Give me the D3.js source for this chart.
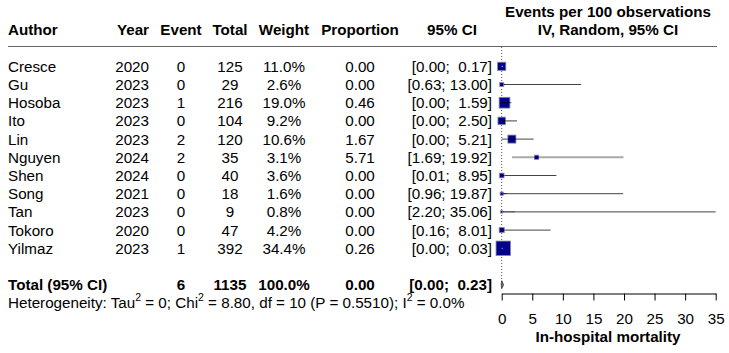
<!DOCTYPE html>
<html>
<head>
<meta charset="utf-8">
<script src="https://cdn.jsdelivr.net/npm/d3@7"></script>
<style>
  body { margin: 0; background: #fff; }
  text { font-family: "Liberation Sans", Arial, sans-serif; font-size: 15.2px; fill: #000; }
  .bold { font-weight: bold; }
</style>
</head>
<body>
<script>
let width = 729;
let height = 353;

// study data
let authors = ["Cresce", "Gu", "Hosoba", "Ito", "Lin", "Nguyen", "Shen", "Song", "Tan", "Tokoro", "Yilmaz"];
let years = [2020, 2023, 2023, 2023, 2023, 2024, 2024, 2021, 2023, 2020, 2023];
let events = [0, 0, 1, 0, 2, 2, 0, 0, 0, 0, 1];
let totals = [125, 29, 216, 104, 120, 35, 40, 18, 9, 47, 392];
let weights = [11.0, 2.6, 19.0, 9.2, 10.6, 3.1, 3.6, 1.6, 0.8, 4.2, 34.4];
let proportions = [0.00, 0.00, 0.46, 0.00, 1.67, 5.71, 0.00, 0.00, 0.00, 0.00, 0.26];
let ciLow = [0.00, 0.63, 0.00, 0.00, 0.00, 1.69, 0.01, 0.96, 2.20, 0.16, 0.00];
let ciHigh = [0.17, 13.00, 1.59, 2.50, 5.21, 19.92, 8.95, 19.87, 35.06, 8.01, 0.03];

// pooled result
let pooledEvents = 6;
let pooledTotal = 1135;
let pooledWeight = 100.0;
let pooledEst = 0.00;
let pooledLow = 0.00;
let pooledHigh = 0.23;

let xTicks = [0, 5, 10, 15, 20, 25, 30, 35];

let svg = d3.select("body")
            .append("svg")
            .attr("width", width)
            .attr("height", height);

// row positions (11 studies, a blank row, total, heterogeneity)
let y = d3.scaleLinear().domain([0, 1]).range([66.3, 84.5]);
let x = d3.scaleLinear().domain([0, 35]).range([501.7, 715.7]);
let boxSize = d3.scaleSqrt().domain([0, 34.4]).range([0, 14.5]);

let fmt2 = d3.format(".2f");
let fmt1 = d3.format(".1f");
// non-breaking spaces keep the padding before the upper limit
function ciText(lo, hi) {
  return ("[" + fmt2(lo) + "; " + fmt2(hi).padStart(5, " ") + "]").replace(/ /g, "\u00A0");
}

// column definitions: x position and anchor
let cols = [
  { head: "Author", x: 8, anchor: "start", val: (d, i) => authors[i] },
  { head: "Year", x: 149, anchor: "end", val: (d, i) => years[i] },
  { head: "Event", x: 181, anchor: "middle", val: (d, i) => events[i] },
  { head: "Total", x: 230, anchor: "middle", val: (d, i) => totals[i] },
  { head: "Weight", x: 284, anchor: "middle", val: (d, i) => fmt1(weights[i]) + "%" },
  { head: "Proportion", x: 360, anchor: "middle", val: (d, i) => fmt2(proportions[i]) },
  { head: "95% CI", x: 452, anchor: "middle", val: null }
];

// headers
let header = svg.append("g");
cols.forEach(function(c) {
  header.append("text").classed("bold", true)
    .attr("x", c.x).attr("y", 35)
    .attr("text-anchor", c.anchor)
    .text(c.head);
});
header.append("text").classed("bold", true)
  .attr("x", 608).attr("y", 17).attr("text-anchor", "middle")
  .text("Events per 100 observations");
header.append("text").classed("bold", true)
  .attr("x", 608).attr("y", 35).attr("text-anchor", "middle")
  .text("IV, Random, 95% CI");
header.append("line")
  .attr("x1", 8).attr("x2", 717).attr("y1", 46.5).attr("y2", 46.5)
  .attr("stroke", "#666").attr("stroke-width", 1);

// reference line at 0
svg.append("line")
  .attr("x1", x(0)).attr("x2", x(0))
  .attr("y1", 47).attr("y2", y(12))
  .attr("stroke", "#555").attr("stroke-width", 1)
  .attr("stroke-dasharray", "1,2");

// study rows
let rows = svg.append("g").selectAll("g.row")
  .data(authors)
  .enter()
  .append("g")
  .classed("row", true)
  .attr("transform", function(d, i) { return "translate(0," + y(i) + ")"; });

cols.slice(0, 6).forEach(function(c) {
  rows.append("text")
    .attr("x", c.x).attr("y", 5.5)
    .attr("text-anchor", c.anchor)
    .text(c.val);
});
rows.append("text")
  .attr("x", 492).attr("y", 5.5)
  .attr("text-anchor", "end")
  .text(function(d, i) { return ciText(ciLow[i], ciHigh[i]); });

// CI lines and boxes
rows.each(function(d, i) {
  let g = d3.select(this);
  let s = boxSize(weights[i]);
  let cx = x(proportions[i]);
  let lo = x(ciLow[i]), hi = x(Math.min(ciHigh[i], 35));
  let inside = lo >= cx - s / 2 && hi <= cx + s / 2;
  if (!inside) {
    g.append("line")
      .attr("x1", lo).attr("x2", hi).attr("y1", 0).attr("y2", 0)
      .attr("stroke", i === 5 ? "#aaa" : "#444")
      .attr("stroke-width", i === 5 ? 2 : 1);
  }
  g.append("rect")
    .attr("x", cx - s / 2).attr("y", -s / 2)
    .attr("width", s).attr("height", s)
    .attr("fill", "#00008b")
    .attr("stroke", "#8888aa").attr("stroke-width", 0.8);
  if (inside) {
    g.append("line")
      .attr("x1", lo).attr("x2", Math.max(hi, lo + 0.8)).attr("y1", 0).attr("y2", 0)
      .attr("stroke", "#fff").attr("stroke-width", 1);
  } else {
    g.append("line")
      .attr("x1", Math.max(lo, cx - s / 2)).attr("x2", Math.min(hi, cx + s / 2))
      .attr("y1", 0).attr("y2", 0)
      .attr("stroke", "#000").attr("stroke-width", 1);
  }
});

// total row
let tot = svg.append("g").attr("transform", "translate(0," + y(12) + ")");
let totVals = ["Total (95% CI)", "", pooledEvents, pooledTotal, fmt1(pooledWeight) + "%", fmt2(pooledEst)];
cols.slice(0, 6).forEach(function(c, j) {
  tot.append("text").classed("bold", true)
    .attr("x", c.x).attr("y", 5.5)
    .attr("text-anchor", c.anchor)
    .text(totVals[j]);
});
tot.append("text").classed("bold", true)
  .attr("x", 492).attr("y", 5.5).attr("text-anchor", "end")
  .text(ciText(pooledLow, pooledHigh));
tot.append("path")
  .attr("d", d3.line()([
    [x(pooledLow) - 0.5, 0], [x(pooledEst), -4], [x(pooledHigh) + 0.5, 0], [x(pooledEst), 4]
  ]) + "Z")
  .attr("fill", "#777").attr("stroke", "#333").attr("stroke-width", 0.8);

// heterogeneity line
let het = svg.append("text")
  .attr("x", 8).attr("y", y(13) + 5.5);
het.append("tspan").text("Heterogeneity: Tau");
het.append("tspan").attr("dy", -7).style("font-size", "10.5px").text("2");
het.append("tspan").attr("dy", 7).text(" = 0; Chi");
het.append("tspan").attr("dy", -7).style("font-size", "10.5px").text("2");
het.append("tspan").attr("dy", 7).text(" = 8.80, df = 10 (P = 0.5510); I");
het.append("tspan").attr("dy", -7).style("font-size", "10.5px").text("2");
het.append("tspan").attr("dy", 7).text(" = 0.0%");

// x axis
let axis = svg.append("g")
  .attr("transform", "translate(0,293.5)")
  .call(d3.axisBottom(x).tickValues(xTicks).tickSize(7).tickPadding(13).tickSizeOuter(0));
axis.select(".domain").attr("stroke", "#000");
axis.selectAll(".tick line").attr("stroke", "#000");
axis.selectAll(".tick text")
  .style("font-family", "Liberation Sans, Arial, sans-serif")
  .style("font-size", "15.2px");

svg.append("text").classed("bold", true)
  .attr("x", 608).attr("y", 342).attr("text-anchor", "middle")
  .text("In-hospital mortality");
</script>
</body>
</html>
